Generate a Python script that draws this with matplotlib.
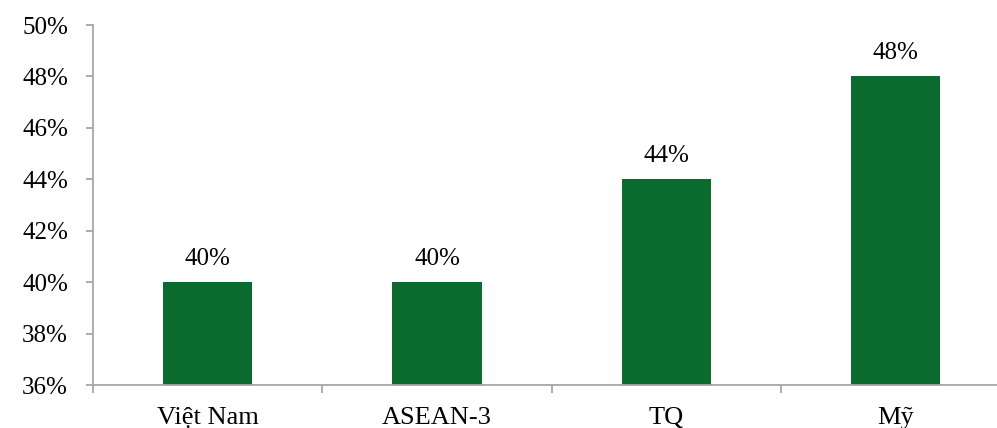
import matplotlib
matplotlib.use("Agg")
import matplotlib.pyplot as plt
from matplotlib.ticker import FixedLocator, FuncFormatter

categories = ["Việt Nam", "ASEAN-3", "TQ", "Mỹ"]
values = [40, 40, 44, 48]
y_ticks = [36, 38, 40, 42, 44, 46, 48, 50]

plt.rcParams["font.family"] = ["Liberation Serif", "DejaVu Serif"]

fig = plt.figure(figsize=(9.97, 4.28), dpi=100)
ax = fig.add_axes([93 / 997, 43 / 428, 904 / 997, 360 / 428])

bar_color = "#0b6b2f"
axis_color = "#a6a6a6"
x = list(range(len(categories)))
bars = ax.bar(x, values, width=0.39, color=bar_color, zorder=2)

for xi, v in zip(x, values):
    ax.annotate(f"{v}%", (xi, v), xytext=(0, 9), textcoords="offset points",
                ha="center", va="bottom", fontsize=18, color="black")

ax.set_ylim(36, 50)
ax.set_xlim(-0.5, -0.5 + 904 / 229.3)
ax.set_yticks(y_ticks)
ax.yaxis.set_major_formatter(FuncFormatter(lambda v, _: f"{v:.0f}%"))

ax.set_xticks(x)
ax.set_xticklabels(categories)
ax.xaxis.set_minor_locator(FixedLocator([i - 0.5 for i in range(len(categories) + 1)]))
ax.tick_params(axis="x", which="major", length=0, pad=15.5, labelsize=19)
ax.tick_params(axis="x", which="minor", length=6, width=1.3, color=axis_color)
ax.tick_params(axis="y", length=5, width=1.3, color=axis_color, labelsize=18, pad=13)

for side in ("top", "right"):
    ax.spines[side].set_visible(False)
for side in ("left", "bottom"):
    ax.spines[side].set_color(axis_color)
    ax.spines[side].set_linewidth(1.3)

fig.savefig("out.png", dpi=100)
